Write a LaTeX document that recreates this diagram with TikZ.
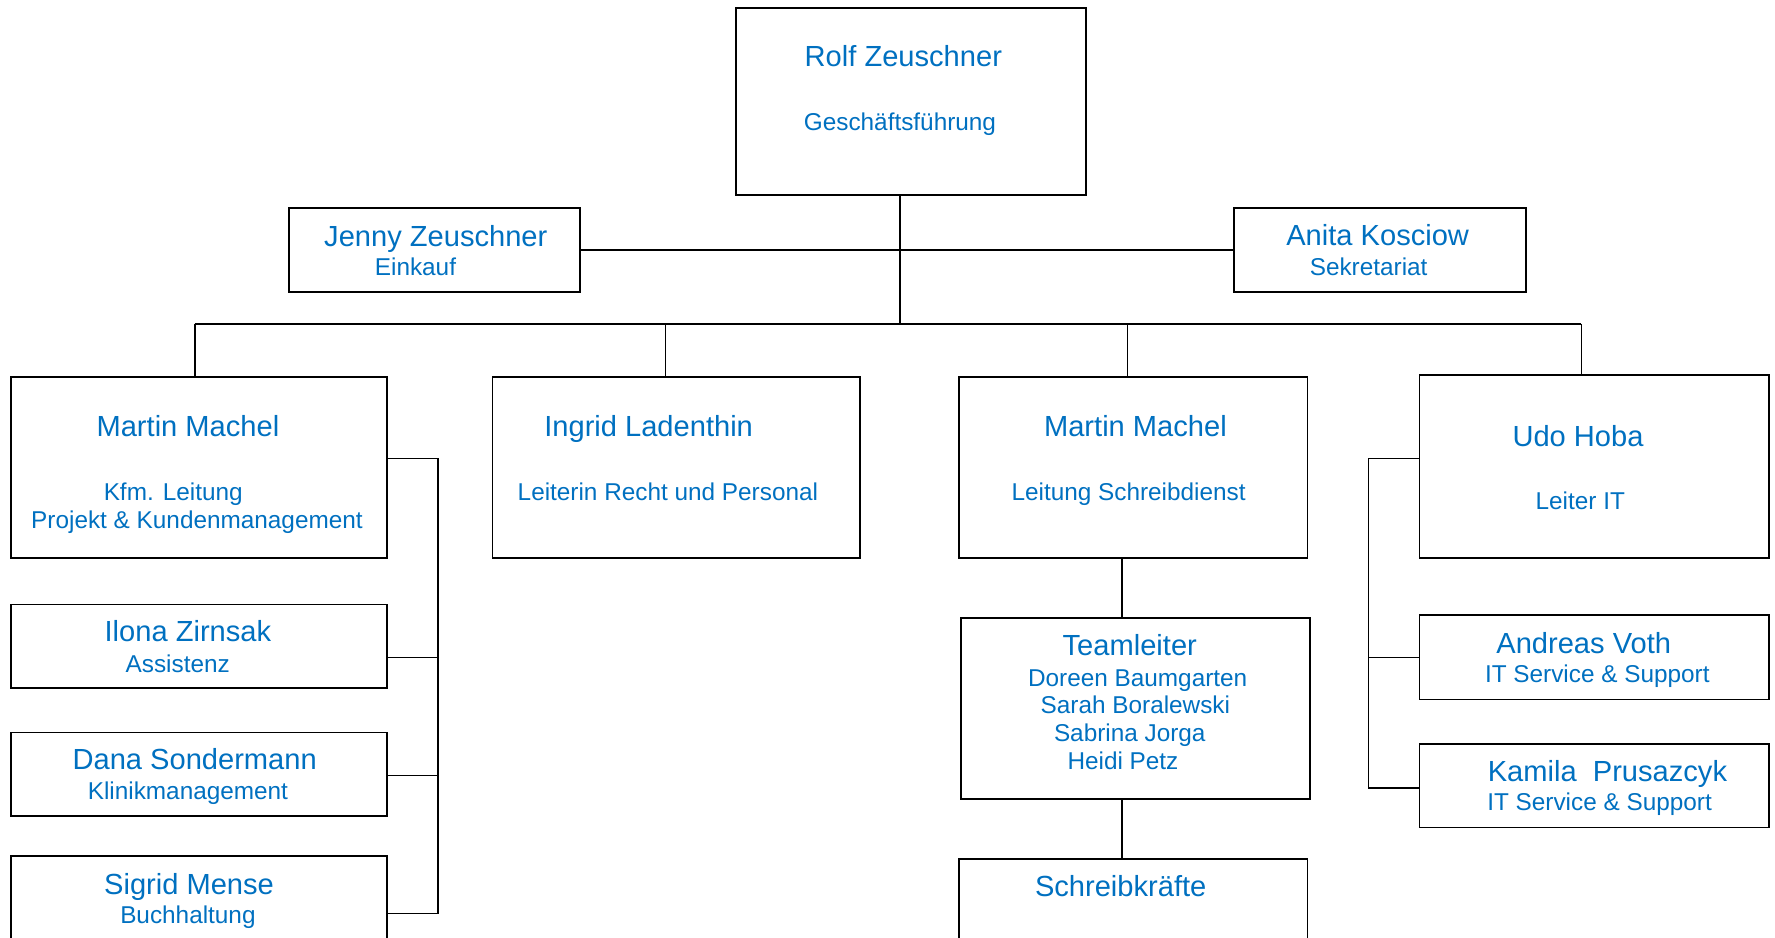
\documentclass[tikz,border=0pt]{standalone}
\usepackage{fontspec}
\setmainfont{Liberation Sans}
\usetikzlibrary{fit}
\definecolor{orgblue}{HTML}{0070C0}

\begin{document}
\begin{tikzpicture}[x=0.5pt,y=-0.5pt,
  box/.style={draw,line width=0.8pt,inner sep=0pt},
  link/.style={draw,line width=0.7pt},
  nametext/.style={anchor=base,inner sep=0pt,text=orgblue,font=\fontsize{12.85}{15}\selectfont},
  subtext/.style={anchor=base,inner sep=0pt,text=orgblue,font=\fontsize{10.75}{13}\selectfont}]
\useasboundingbox (0,0) rectangle (1568,828);
\clip (0,0) rectangle (1568,828);

\node[box,fit={(650,7) (959,172)}] (rolf) {};
\node[box,fit={(255,184) (512,258)}] (jenny) {};
\node[box,fit={(1090,184) (1348,258)}] (anita) {};
\node[box,fit={(10,333) (342,493)}] (kfm) {};
\node[box,fit={(435,333) (760,493)}] (recht) {};
\node[box,fit={(847,333) (1155,493)}] (schreib) {};
\node[box,fit={(1254,331) (1563,493)}] (it) {};
\node[box,fit={(10,534) (342,608)}] (ilona) {};
\node[box,fit={(10,647) (342,721)}] (dana) {};
\node[box,fit={(10,756) (342,860)}] (sigrid) {};
\node[box,fit={(849,546) (1157,706)}] (team) {};
\node[box,fit={(847,759) (1155,860)}] (kraefte) {};
\node[box,fit={(1254,543) (1563,618)}] (andreas) {};
\node[box,fit={(1254,657) (1563,731)}] (kamila) {};

\node[nametext] (rolfname) at (798,59) {Rolf Zeuschner};
\node[subtext] (rolfsub) at (795,115) {Geschäftsführung};
\node[nametext] (jennyname) at (385,218) {Jenny Zeuschner};
\node[subtext] (jennysub) at (367,243) {Einkauf};
\node[nametext] (anitaname) at (1217,217) {Anita Kosciow};
\node[subtext] (anitasub) at (1209,243) {Sekretariat};
\node[nametext] (kfmname) at (166,386) {Martin Machel};
\node[subtext] (kfmsub) at (153,442) {Kfm. Leitung};
\node[subtext] (kfmsubb) at (174,467) {Projekt \& Kundenmanagement};
\node[nametext] (rechtname) at (573,386) {Ingrid Ladenthin};
\node[subtext] (rechtsub) at (590,442) {Leiterin Recht und Personal};
\node[nametext] (schreibname) at (1003,386) {Martin Machel};
\node[subtext] (schreibsub) at (997,442) {Leitung Schreibdienst};
\node[nametext] (itname) at (1394,394) {Udo Hoba};
\node[subtext] (itsub) at (1396,450) {Leiter IT};
\node[nametext] (ilonaname) at (166,567) {Ilona Zirnsak};
\node[subtext] (ilonasub) at (157,594) {Assistenz};
\node[nametext] (dananame) at (172,680) {Dana Sondermann};
\node[subtext] (danasub) at (166,706) {Klinikmanagement};
\node[nametext] (sigridname) at (167,790) {Sigrid Mense};
\node[subtext] (sigridsub) at (166,816) {Buchhaltung};
\node[nametext] (teamname) at (998,579) {Teamleiter};
\node[subtext] (teama) at (1005,606) {Doreen Baumgarten};
\node[subtext] (teamb) at (1003,630) {Sarah Boralewski};
\node[subtext] (teamc) at (998,655) {Sabrina Jorga};
\node[subtext] (teamd) at (992,680) {Heidi Petz};
\node[nametext] (kraeftename) at (990,792) {Schreibkräfte};
\node[nametext] (andreasname) at (1399,577) {Andreas Voth};
\node[subtext] (andreassub) at (1411,603) {IT Service \& Support};
\node[nametext] (kamilaname) at (1420,690) {Kamila\ \ Prusazcyk};
\node[subtext] (kamilasub) at (1413,716) {IT Service \& Support};

\coordinate (hub) at (795,286);
\coordinate (b1) at (172,286);
\coordinate (b2) at (588,286);
\coordinate (b3) at (996,286);
\coordinate (b4) at (1397,286);
\draw[link] (rolf.south -| hub) -- (hub);
\draw[link] (jenny.east) -- (anita.west);
\draw[link] (b1) -- (b4);
\foreach \b/\n in {b1/kfm,b2/recht,b3/schreib,b4/it}
  \draw[link] (\b) -- (\b |- \n.north);

\coordinate (lt) at (387,405);
\coordinate (li) at (387,581);
\coordinate (ld) at (387,685);
\coordinate (lb) at (387,807);
\draw[link] (kfm.east |- lt) -- (lt) -- (lb) -- (sigrid.east |- lb);
\draw[link] (ilona.east |- li) -- (li);
\draw[link] (dana.east |- ld) -- (ld);

\coordinate (rt) at (1209,405);
\coordinate (ra) at (1209,581);
\coordinate (rk) at (1209,696);
\draw[link] (it.west |- rt) -- (rt) -- (rk) -- (kamila.west |- rk);
\draw[link] (ra) -- (andreas.west |- ra);

\coordinate (tx) at (991,0);
\draw[link] (schreib.south -| tx) -- (team.north -| tx);
\draw[link] (team.south -| tx) -- (kraefte.north -| tx);
\end{tikzpicture}
\end{document}
